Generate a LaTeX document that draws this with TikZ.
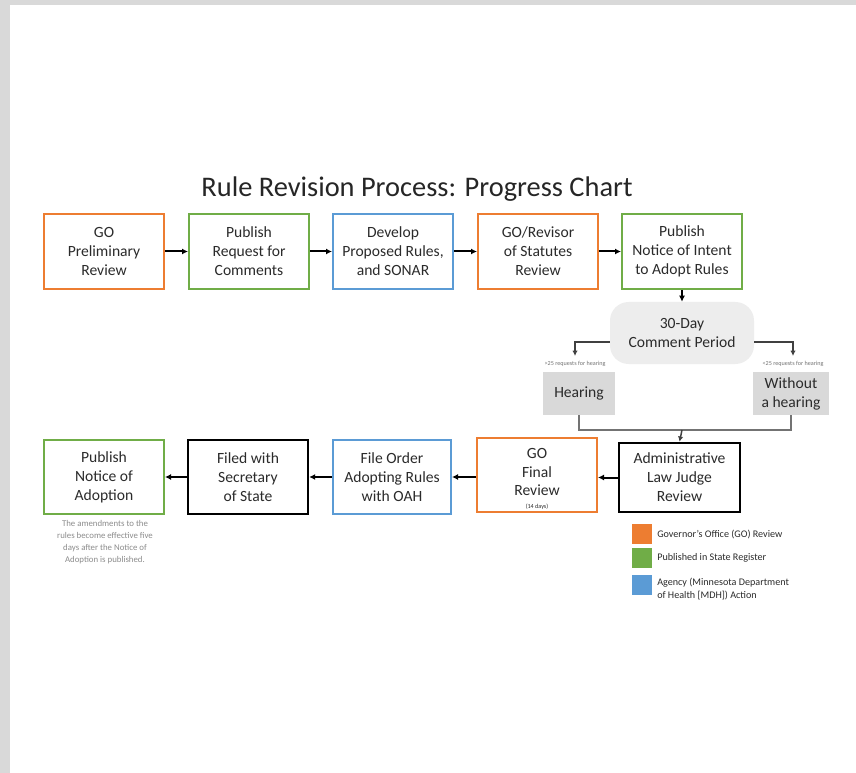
\documentclass[tikz,border=0pt]{standalone}
\usepackage{fontspec}
\setmainfont{Carlito}
\usetikzlibrary{arrows.meta,calc}
\definecolor{goor}{HTML}{ED7D31}
\definecolor{pubgr}{HTML}{70AD47}
\definecolor{agbl}{HTML}{5B9BD5}
\definecolor{frame}{HTML}{D9D9D9}
\definecolor{txt}{HTML}{2B2B2B}
\tikzset{
  box/.style={draw, line width=1.5pt, minimum width=90pt, minimum height=56pt, align=center,
    font=\fontsize{11.7}{14.2}\selectfont, text=txt, inner sep=1pt},
  gobox/.style={box, draw=goor},
  pubbox/.style={box, draw=pubgr},
  agbox/.style={box, draw=agbl},
  blkbox/.style={box, draw=black, line width=1.8pt},
  graybox/.style={fill=frame, align=center, font=\fontsize{11.7}{14.2}\selectfont, text=txt, inner sep=1pt},
  arr/.style={line width=1.5pt, -{Latex[length=4.5pt,width=4.5pt]}},
  garr/.style={line width=1.1pt, draw=black!75, -{Latex[length=4pt,width=4pt]}},
  gline/.style={line width=1.1pt, draw=black!55},
  tiny/.style={font=\fontsize{4.6}{5}\selectfont, text=black!55, inner sep=0pt},
  legsq/.style={minimum width=15pt, minimum height=15pt, inner sep=0pt},
  legtxt/.style={anchor=west, align=left, font=\fontsize{7.6}{10}\selectfont, text=txt, inner sep=0pt},
}
\begin{document}
\begin{tikzpicture}[x=0.75pt,y=-0.75pt]
\useasboundingbox (0,0) rectangle (856,773);
\fill[white] (0,0) rectangle (856,773);
\fill[frame] (0,0) rectangle (856,5);
\fill[frame] (0,0) rectangle (10,773);

\node[font=\fontsize{21.3}{24}\selectfont, text=black!85] (title) at (417,189) {Rule Revision Process: Progress Chart};

% top row
\node[gobox] (go1) at (104,251.5) {GO\\Preliminary\\Review};
\node[pubbox] (pub1) at (249,251.5) {Publish\\Request for\\Comments};
\node[agbox] (dev) at (393,251.5) {Develop\\Proposed Rules,\\and SONAR};
\node[gobox] (rev) at (538,251.5) {GO/Revisor\\of Statutes\\Review};
\node[pubbox] (noi) at (682,251.5) {Publish\\Notice of Intent\\to Adopt Rules};

\draw[arr] (go1) -- (pub1);
\draw[arr] (pub1) -- (dev);
\draw[arr] (dev) -- (rev);
\draw[arr] (rev) -- (noi);

% comment period
\node[fill=black!7, rounded corners=14pt, minimum width=108pt, minimum height=46.5pt, align=center,
  font=\fontsize{11.7}{14.2}\selectfont, text=txt, inner sep=1pt] (com) at (682,333) {30-Day\\Comment Period};
\draw[arr] (noi) -- (com);

\coordinate (hl) at (575,356);
\coordinate (hr) at (793,356);
\draw[garr] ([yshift=-6.75pt]com.west) -| (hl);
\draw[garr] ([yshift=-6.75pt]com.east) -| (hr);
\node[tiny] (lbl) at (575,364) {>25 requests for hearing};
\node[tiny] (lbr) at (793,364) {<25 requests for hearing};

\node[graybox, minimum width=54pt, minimum height=32pt] (hear) at (579,393.5) {Hearing};
\node[graybox, minimum width=57pt, minimum height=32pt] (woh) at (791,393.5) {Without\\a hearing};

% bottom row
\node[blkbox, minimum width=90.75pt, minimum height=51.75pt] (alj) at (679.5,477.5) {Administrative\\Law Judge\\Review};
\node[gobox, minimum height=55.5pt] (gof) at (537,475) {};
\node[text=txt, font=\fontsize{11.7}{14.2}\selectfont, align=center, inner sep=0pt] (goft) at (537,472) {GO\\Final\\Review};
\node[font=\fontsize{4.6}{5}\selectfont, text=txt, inner sep=0pt] (days) at (537,507) {(14 days)};
\node[agbox, minimum width=88.5pt, minimum height=55.5pt] (fo) at (392,477) {File Order\\Adopting Rules\\with OAH};
\node[blkbox, minimum height=55.5pt] (fs) at (248,477) {Filed with\\Secretary\\of State};
\node[pubbox, minimum height=55.5pt] (pna) at (104,477) {Publish\\Notice of\\Adoption};

\coordinate (j) at (682,430);
\draw[gline] (hear.south) |- (j) -| (woh.south);
\draw[garr] (j) -- (alj.north);

\draw[arr] (alj.west) -- (gof.east |- alj.west);
\draw[arr] (gof.west |- fo.east) -- (fo.east);
\draw[arr] (fo.west) -- (fs.east);
\draw[arr] (fs.west) -- (pna.east);

\node[align=center, font=\fontsize{6.6}{9}\selectfont, text=black!45, inner sep=0pt, anchor=north] (note) at (105,520)
  {The amendments to the\\rules become effective five\\days after the Notice of\\Adoption is published.};

% legend
\node[legsq, fill=goor] (l1) at (642,534) {};
\node[legsq, fill=pubgr] (l2) at (642,558) {};
\node[legsq, fill=agbl] (l3) at (642,585) {};
\node[legtxt] (t1) at (657,534) {Governor's Office (GO) Review};
\node[legtxt] (t2) at (657,558) {Published in State Register};
\node[legtxt] (t3) at (657,589) {Agency (Minnesota Department\\of Health [MDH]) Action};
\end{tikzpicture}
\end{document}
